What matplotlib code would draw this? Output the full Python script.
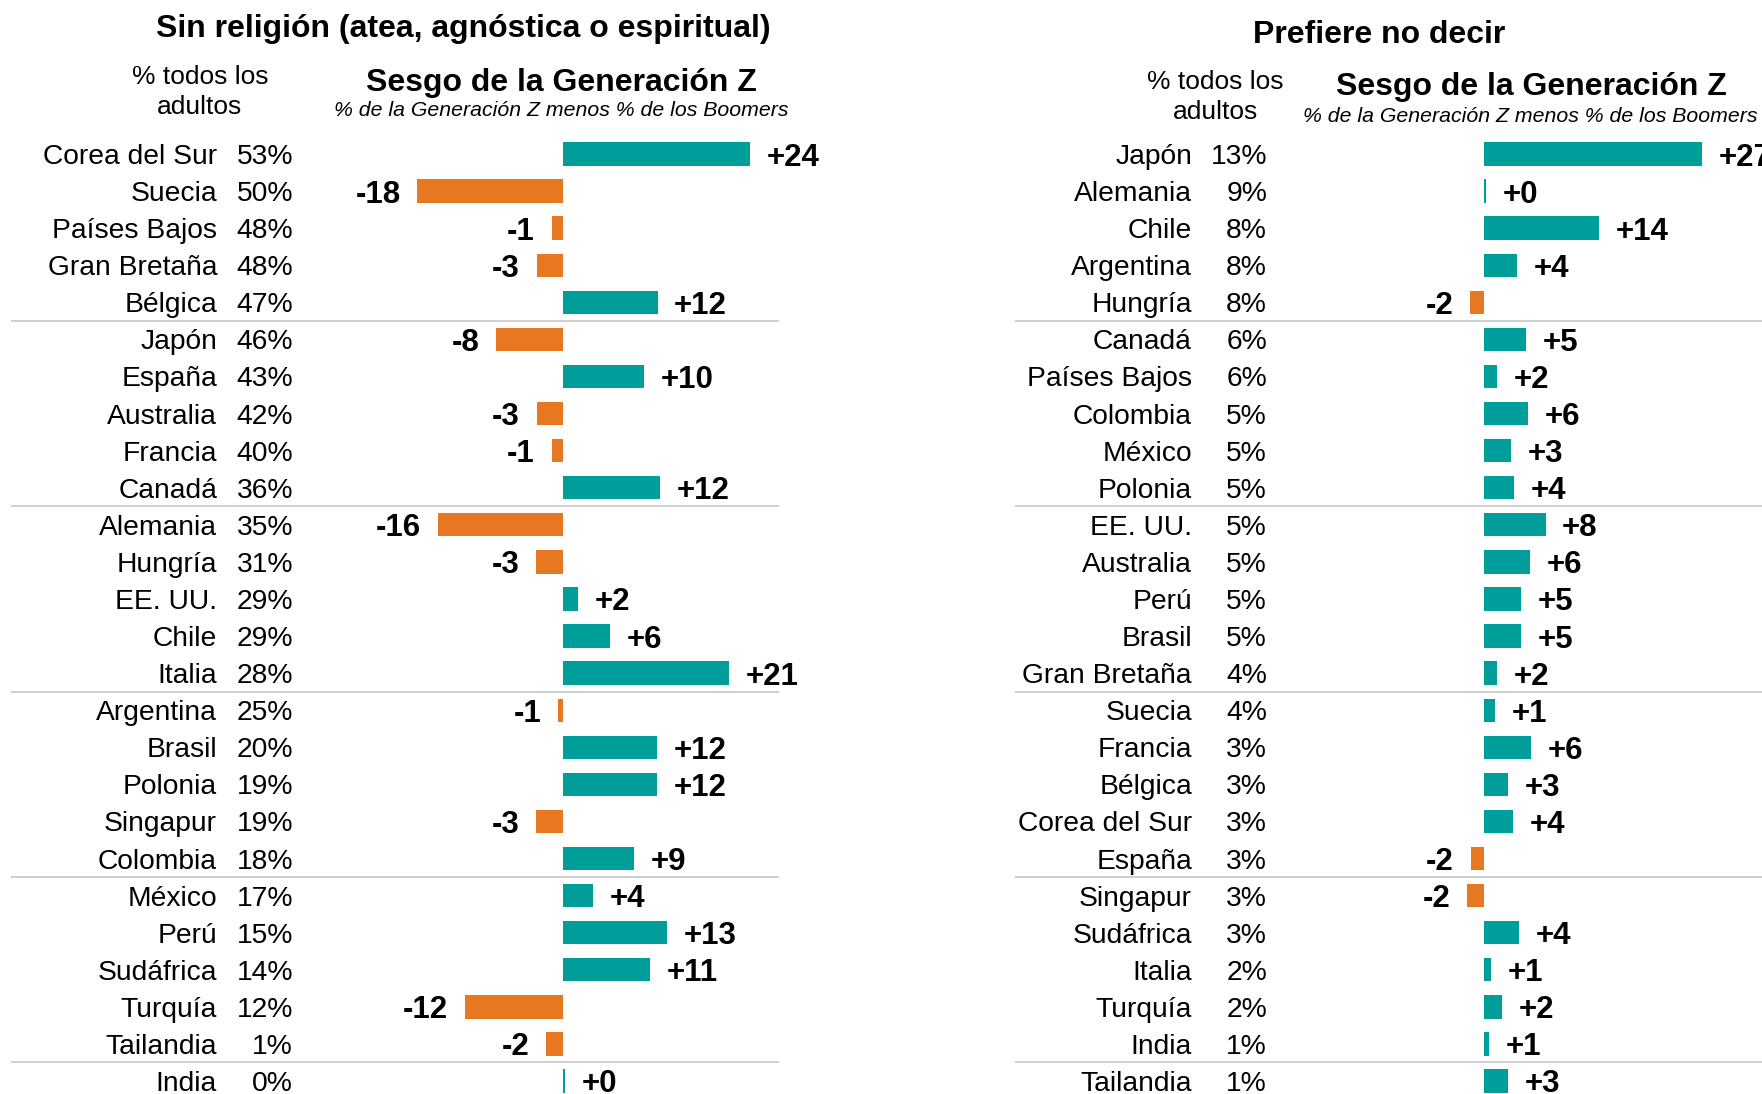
import matplotlib
matplotlib.use("Agg")
import matplotlib.pyplot as plt
from matplotlib import transforms

plt.rcParams['font.family'] = ['Liberation Sans', 'DejaVu Sans']

# --- data -------------------------------------------------------------
none_countries = ["Corea del Sur", "Suecia", "Países Bajos", "Gran Bretaña", "Bélgica",
                  "Japón", "España", "Australia", "Francia", "Canadá",
                  "Alemania", "Hungría", "EE. UU.", "Chile", "Italia",
                  "Argentina", "Brasil", "Polonia", "Singapur", "Colombia",
                  "México", "Perú", "Sudáfrica", "Turquía", "Tailandia", "India"]
none_all_adults = [53, 50, 48, 48, 47, 46, 43, 42, 40, 36, 35, 31, 29, 29, 28,
                   25, 20, 19, 19, 18, 17, 15, 14, 12, 1, 0]
none_genz_gap = [23.7, -18.4, -1.4, -3.3, 12.0, -8.4, 10.3, -3.3, -1.4, 12.3,
                 -15.8, -3.4, 1.9, 6.0, 21.1, -0.6, 11.9, 11.9, -3.4, 9.0,
                 3.8, 13.2, 11.1, -12.4, -2.1, 0.3]
none_labels = [24, -18, -1, -3, 12, -8, 10, -3, -1, 12, -16, -3, 2, 6, 21,
               -1, 12, 12, -3, 9, 4, 13, 11, -12, -2, 0]

pnd_countries = ["Japón", "Alemania", "Chile", "Argentina", "Hungría",
                 "Canadá", "Países Bajos", "Colombia", "México", "Polonia",
                 "EE. UU.", "Australia", "Perú", "Brasil", "Gran Bretaña",
                 "Suecia", "Francia", "Bélgica", "Corea del Sur", "España",
                 "Singapur", "Sudáfrica", "Italia", "Turquía", "India", "Tailandia"]
pnd_all_adults = [13, 9, 8, 8, 8, 6, 6, 5, 5, 5, 5, 5, 5, 5, 4,
                  4, 3, 3, 3, 3, 3, 3, 2, 2, 1, 1]
pnd_genz_gap = [27.0, 0.2, 14.2, 4.1, -1.8, 5.2, 1.6, 5.4, 3.3, 3.7,
                7.6, 5.7, 4.6, 4.6, 1.6, 1.3, 5.8, 2.9, 3.6, -1.7,
                -2.1, 4.3, 0.8, 2.2, 0.6, 2.9]
pnd_labels = [27, 0, 14, 4, -2, 5, 2, 6, 3, 4, 8, 6, 5, 5, 2, 1, 6, 3, 4, -2,
              -2, 4, 1, 2, 1, 3]

TEAL = "#009e9a"
ORANGE = "#e87722"
GRID = "#cccccc"

W, H = 1762, 1094
fig = plt.figure(figsize=(W / 100, H / 100), dpi=100)

ROW0 = 154      # pixel y of first row
ROWSTEP = 37.08  # pixels per row


def fx(x):
    return x / W


def fy(y):
    return 1 - y / H


def panel(left, right, zero, scale, countries, pcts, gaps, labels,
          name_right, pct_right):
    ax = fig.add_axes([fx(left), 0, fx(right - left), 1])
    ax.set_xlim((left - zero) / scale, (right - zero) / scale)
    ax.set_ylim((H - ROW0) / ROWSTEP, -ROW0 / ROWSTEP)
    ax.axis('off')

    rows = list(range(len(countries)))
    colors = [TEAL if g >= 0 else ORANGE for g in gaps]
    ax.barh(rows, gaps, height=0.63, color=colors, edgecolor='none')

    for k in range(5, len(countries), 5):
        ax.axhline(k - 0.5, color=GRID, lw=1.3)

    trans = transforms.blended_transform_factory(fig.transFigure, ax.transData)
    for i, (c, p, g, lab) in enumerate(zip(countries, pcts, gaps, labels)):
        ax.text(fx(name_right), i, c, transform=trans, ha='right',
                va='center_baseline', fontsize=20.3)
        ax.text(fx(pct_right), i, f"{p}%", transform=trans, ha='right',
                va='center_baseline', fontsize=20.3)
        txt = f"+{lab}" if lab >= 0 else f"{lab}"
        ax.annotate(txt, xy=(g, i), xytext=(12 if g >= 0 else -12, 0),
                    textcoords='offset points', ha='left' if g >= 0 else 'right',
                    va='center_baseline', fontsize=22.5, fontweight='bold')
    return ax


panel(11, 779, 562.7, 7.9, none_countries, none_all_adults, none_genz_gap,
      none_labels, 217, 293)
panel(1015, 1762, 1484.3, 8.06, pnd_countries, pnd_all_adults, pnd_genz_gap,
      pnd_labels, 1192, 1267)

# headers
fig.text(fx(463), fy(28.5), "Sin religión (atea, agnóstica o espiritual)",
         ha='center', va='center', fontsize=23, fontweight='bold')
fig.text(fx(200), fy(92), "% todos los\nadultos", ha='center', va='center',
         fontsize=19, linespacing=1.33)
fig.text(fx(561), fy(82.5), "Sesgo de la Generación Z", ha='center', va='center',
         fontsize=23, fontweight='bold')
fig.text(fx(561), fy(111), "% de la Generación Z menos % de los Boomers",
         ha='center', va='center', fontsize=15.3, style='italic')

fig.text(fx(1379), fy(35), "Prefiere no decir",
         ha='center', va='center', fontsize=23, fontweight='bold')
fig.text(fx(1215), fy(97), "% todos los\nadultos", ha='center', va='center',
         fontsize=19, linespacing=1.33)
fig.text(fx(1531), fy(87.5), "Sesgo de la Generación Z", ha='center', va='center',
         fontsize=23, fontweight='bold')
fig.text(fx(1303), fy(117), "% de la Generación Z menos % de los Boomers",
         ha='left', va='center', fontsize=15.3, style='italic')

fig.savefig("out.png", dpi=100)
